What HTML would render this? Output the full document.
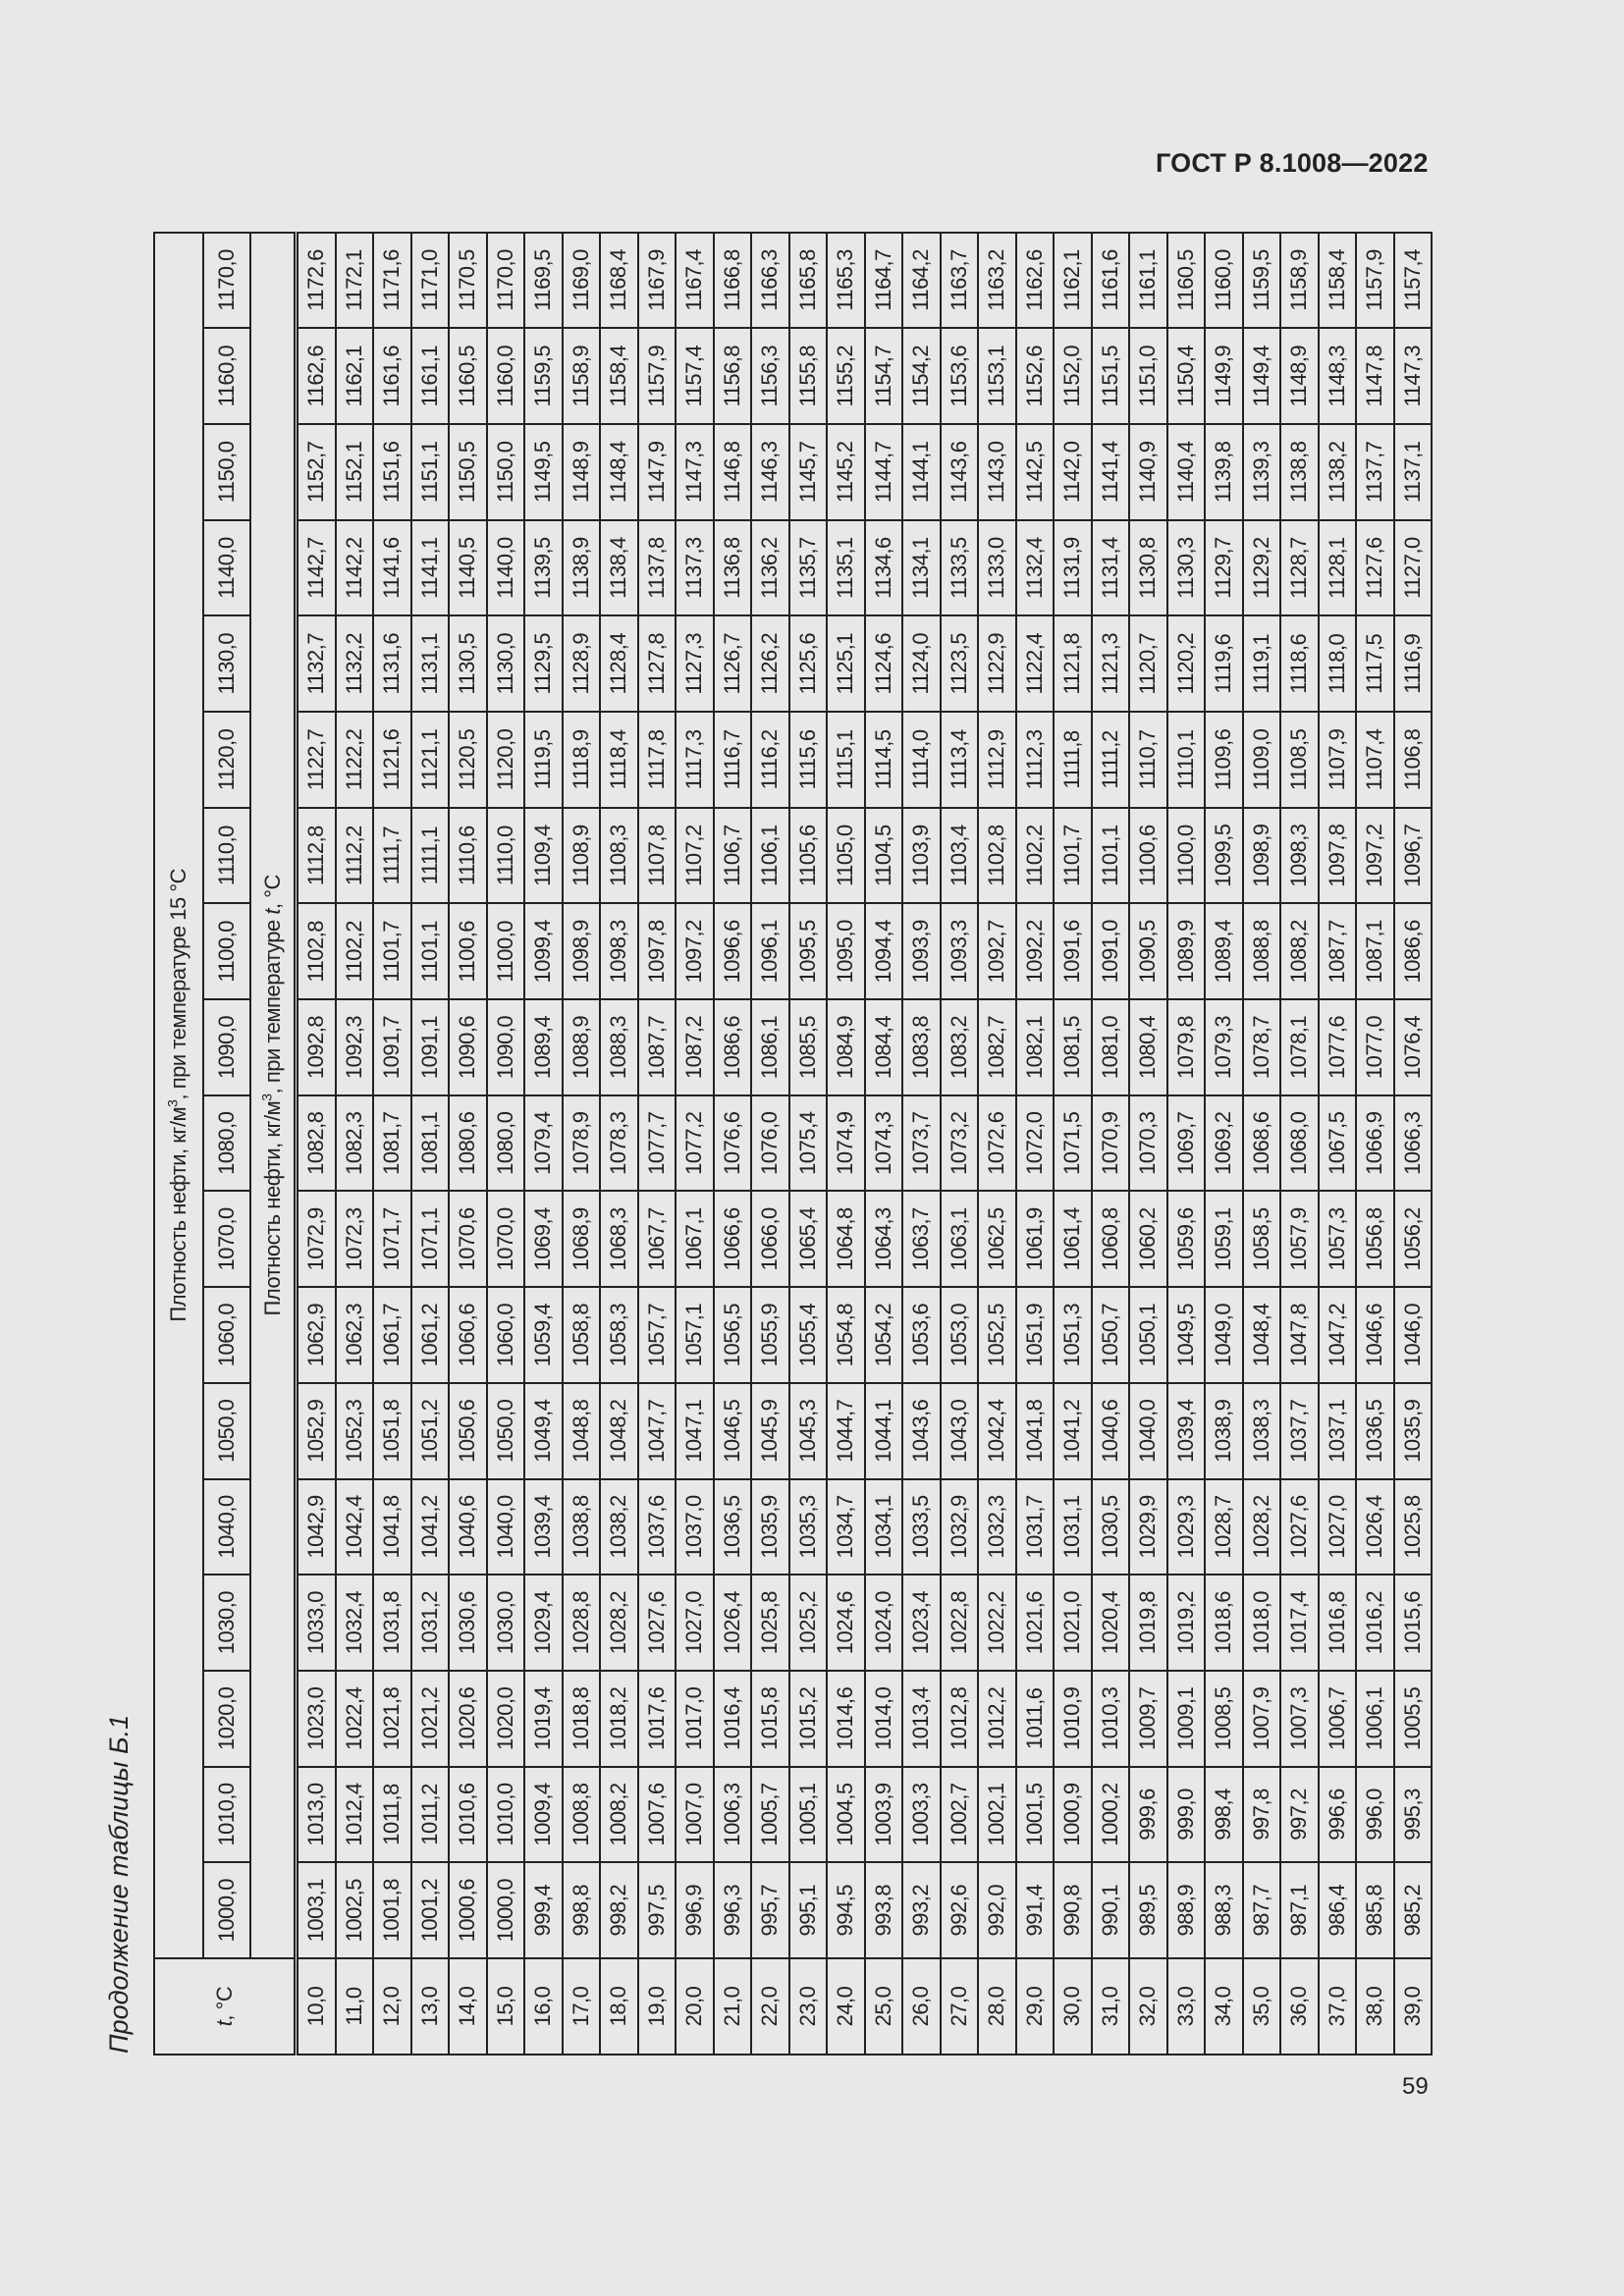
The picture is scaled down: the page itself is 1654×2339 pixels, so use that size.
<!DOCTYPE html>
<html><head><meta charset="utf-8">
<style>
html,body{margin:0;padding:0;background:#e8e8e8;}
body{width:1654px;height:2339px;position:relative;overflow:hidden;font-family:"Liberation Sans",sans-serif;color:#222;}
#gost{position:absolute;left:1177px;top:151px;font-weight:bold;font-size:27px;letter-spacing:0.2px;}
#pg{position:absolute;left:1428px;top:2112px;font-size:24px;}
#rot{position:absolute;left:156px;top:2094px;width:1857px;height:1300px;transform-origin:0 0;transform:rotate(-90deg);}
#title{position:absolute;left:2px;top:-50px;font-style:italic;font-size:27px;white-space:nowrap;}
table{border-collapse:collapse;table-layout:fixed;width:1857px;}
td{border:2px solid #222;padding:0;text-align:center;font-size:22px;letter-spacing:-0.5px;height:36.5px;line-height:20px;white-space:nowrap;overflow:hidden;}
tr.h1 td{height:48px;}
tr.h2 td{height:46px;}
tr.h3 td{height:43px;border-bottom:5px double #222;}
td.t{border-bottom:5px double #222;}
sup{font-size:14px;line-height:0;}
</style></head><body>
<div id="gost">ГОСТ Р 8.1008—2022</div>
<div id="pg">59</div>
<div id="rot">
<div id="title">Продолжение таблицы Б.1</div>
<table>
<colgroup><col style="width:98px"><col span="18" style="width:97.7px"></colgroup>
<tr class="h1"><td rowspan="3" class="t"><i>t</i>, °C</td><td colspan="18">Плотность нефти, кг/м<sup>3</sup>, при температуре 15 °C</td></tr>
<tr class="h2"><td>1000,0</td><td>1010,0</td><td>1020,0</td><td>1030,0</td><td>1040,0</td><td>1050,0</td><td>1060,0</td><td>1070,0</td><td>1080,0</td><td>1090,0</td><td>1100,0</td><td>1110,0</td><td>1120,0</td><td>1130,0</td><td>1140,0</td><td>1150,0</td><td>1160,0</td><td>1170,0</td></tr>
<tr class="h3"><td colspan="18">Плотность нефти, кг/м<sup>3</sup>, при температуре <i>t</i>, °C</td></tr>
<tr><td>10,0</td><td>1003,1</td><td>1013,0</td><td>1023,0</td><td>1033,0</td><td>1042,9</td><td>1052,9</td><td>1062,9</td><td>1072,9</td><td>1082,8</td><td>1092,8</td><td>1102,8</td><td>1112,8</td><td>1122,7</td><td>1132,7</td><td>1142,7</td><td>1152,7</td><td>1162,6</td><td>1172,6</td></tr>
<tr><td>11,0</td><td>1002,5</td><td>1012,4</td><td>1022,4</td><td>1032,4</td><td>1042,4</td><td>1052,3</td><td>1062,3</td><td>1072,3</td><td>1082,3</td><td>1092,3</td><td>1102,2</td><td>1112,2</td><td>1122,2</td><td>1132,2</td><td>1142,2</td><td>1152,1</td><td>1162,1</td><td>1172,1</td></tr>
<tr><td>12,0</td><td>1001,8</td><td>1011,8</td><td>1021,8</td><td>1031,8</td><td>1041,8</td><td>1051,8</td><td>1061,7</td><td>1071,7</td><td>1081,7</td><td>1091,7</td><td>1101,7</td><td>1111,7</td><td>1121,6</td><td>1131,6</td><td>1141,6</td><td>1151,6</td><td>1161,6</td><td>1171,6</td></tr>
<tr><td>13,0</td><td>1001,2</td><td>1011,2</td><td>1021,2</td><td>1031,2</td><td>1041,2</td><td>1051,2</td><td>1061,2</td><td>1071,1</td><td>1081,1</td><td>1091,1</td><td>1101,1</td><td>1111,1</td><td>1121,1</td><td>1131,1</td><td>1141,1</td><td>1151,1</td><td>1161,1</td><td>1171,0</td></tr>
<tr><td>14,0</td><td>1000,6</td><td>1010,6</td><td>1020,6</td><td>1030,6</td><td>1040,6</td><td>1050,6</td><td>1060,6</td><td>1070,6</td><td>1080,6</td><td>1090,6</td><td>1100,6</td><td>1110,6</td><td>1120,5</td><td>1130,5</td><td>1140,5</td><td>1150,5</td><td>1160,5</td><td>1170,5</td></tr>
<tr><td>15,0</td><td>1000,0</td><td>1010,0</td><td>1020,0</td><td>1030,0</td><td>1040,0</td><td>1050,0</td><td>1060,0</td><td>1070,0</td><td>1080,0</td><td>1090,0</td><td>1100,0</td><td>1110,0</td><td>1120,0</td><td>1130,0</td><td>1140,0</td><td>1150,0</td><td>1160,0</td><td>1170,0</td></tr>
<tr><td>16,0</td><td>999,4</td><td>1009,4</td><td>1019,4</td><td>1029,4</td><td>1039,4</td><td>1049,4</td><td>1059,4</td><td>1069,4</td><td>1079,4</td><td>1089,4</td><td>1099,4</td><td>1109,4</td><td>1119,5</td><td>1129,5</td><td>1139,5</td><td>1149,5</td><td>1159,5</td><td>1169,5</td></tr>
<tr><td>17,0</td><td>998,8</td><td>1008,8</td><td>1018,8</td><td>1028,8</td><td>1038,8</td><td>1048,8</td><td>1058,8</td><td>1068,9</td><td>1078,9</td><td>1088,9</td><td>1098,9</td><td>1108,9</td><td>1118,9</td><td>1128,9</td><td>1138,9</td><td>1148,9</td><td>1158,9</td><td>1169,0</td></tr>
<tr><td>18,0</td><td>998,2</td><td>1008,2</td><td>1018,2</td><td>1028,2</td><td>1038,2</td><td>1048,2</td><td>1058,3</td><td>1068,3</td><td>1078,3</td><td>1088,3</td><td>1098,3</td><td>1108,3</td><td>1118,4</td><td>1128,4</td><td>1138,4</td><td>1148,4</td><td>1158,4</td><td>1168,4</td></tr>
<tr><td>19,0</td><td>997,5</td><td>1007,6</td><td>1017,6</td><td>1027,6</td><td>1037,6</td><td>1047,7</td><td>1057,7</td><td>1067,7</td><td>1077,7</td><td>1087,7</td><td>1097,8</td><td>1107,8</td><td>1117,8</td><td>1127,8</td><td>1137,8</td><td>1147,9</td><td>1157,9</td><td>1167,9</td></tr>
<tr><td>20,0</td><td>996,9</td><td>1007,0</td><td>1017,0</td><td>1027,0</td><td>1037,0</td><td>1047,1</td><td>1057,1</td><td>1067,1</td><td>1077,2</td><td>1087,2</td><td>1097,2</td><td>1107,2</td><td>1117,3</td><td>1127,3</td><td>1137,3</td><td>1147,3</td><td>1157,4</td><td>1167,4</td></tr>
<tr><td>21,0</td><td>996,3</td><td>1006,3</td><td>1016,4</td><td>1026,4</td><td>1036,5</td><td>1046,5</td><td>1056,5</td><td>1066,6</td><td>1076,6</td><td>1086,6</td><td>1096,6</td><td>1106,7</td><td>1116,7</td><td>1126,7</td><td>1136,8</td><td>1146,8</td><td>1156,8</td><td>1166,8</td></tr>
<tr><td>22,0</td><td>995,7</td><td>1005,7</td><td>1015,8</td><td>1025,8</td><td>1035,9</td><td>1045,9</td><td>1055,9</td><td>1066,0</td><td>1076,0</td><td>1086,1</td><td>1096,1</td><td>1106,1</td><td>1116,2</td><td>1126,2</td><td>1136,2</td><td>1146,3</td><td>1156,3</td><td>1166,3</td></tr>
<tr><td>23,0</td><td>995,1</td><td>1005,1</td><td>1015,2</td><td>1025,2</td><td>1035,3</td><td>1045,3</td><td>1055,4</td><td>1065,4</td><td>1075,4</td><td>1085,5</td><td>1095,5</td><td>1105,6</td><td>1115,6</td><td>1125,6</td><td>1135,7</td><td>1145,7</td><td>1155,8</td><td>1165,8</td></tr>
<tr><td>24,0</td><td>994,5</td><td>1004,5</td><td>1014,6</td><td>1024,6</td><td>1034,7</td><td>1044,7</td><td>1054,8</td><td>1064,8</td><td>1074,9</td><td>1084,9</td><td>1095,0</td><td>1105,0</td><td>1115,1</td><td>1125,1</td><td>1135,1</td><td>1145,2</td><td>1155,2</td><td>1165,3</td></tr>
<tr><td>25,0</td><td>993,8</td><td>1003,9</td><td>1014,0</td><td>1024,0</td><td>1034,1</td><td>1044,1</td><td>1054,2</td><td>1064,3</td><td>1074,3</td><td>1084,4</td><td>1094,4</td><td>1104,5</td><td>1114,5</td><td>1124,6</td><td>1134,6</td><td>1144,7</td><td>1154,7</td><td>1164,7</td></tr>
<tr><td>26,0</td><td>993,2</td><td>1003,3</td><td>1013,4</td><td>1023,4</td><td>1033,5</td><td>1043,6</td><td>1053,6</td><td>1063,7</td><td>1073,7</td><td>1083,8</td><td>1093,9</td><td>1103,9</td><td>1114,0</td><td>1124,0</td><td>1134,1</td><td>1144,1</td><td>1154,2</td><td>1164,2</td></tr>
<tr><td>27,0</td><td>992,6</td><td>1002,7</td><td>1012,8</td><td>1022,8</td><td>1032,9</td><td>1043,0</td><td>1053,0</td><td>1063,1</td><td>1073,2</td><td>1083,2</td><td>1093,3</td><td>1103,4</td><td>1113,4</td><td>1123,5</td><td>1133,5</td><td>1143,6</td><td>1153,6</td><td>1163,7</td></tr>
<tr><td>28,0</td><td>992,0</td><td>1002,1</td><td>1012,2</td><td>1022,2</td><td>1032,3</td><td>1042,4</td><td>1052,5</td><td>1062,5</td><td>1072,6</td><td>1082,7</td><td>1092,7</td><td>1102,8</td><td>1112,9</td><td>1122,9</td><td>1133,0</td><td>1143,0</td><td>1153,1</td><td>1163,2</td></tr>
<tr><td>29,0</td><td>991,4</td><td>1001,5</td><td>1011,6</td><td>1021,6</td><td>1031,7</td><td>1041,8</td><td>1051,9</td><td>1061,9</td><td>1072,0</td><td>1082,1</td><td>1092,2</td><td>1102,2</td><td>1112,3</td><td>1122,4</td><td>1132,4</td><td>1142,5</td><td>1152,6</td><td>1162,6</td></tr>
<tr><td>30,0</td><td>990,8</td><td>1000,9</td><td>1010,9</td><td>1021,0</td><td>1031,1</td><td>1041,2</td><td>1051,3</td><td>1061,4</td><td>1071,5</td><td>1081,5</td><td>1091,6</td><td>1101,7</td><td>1111,8</td><td>1121,8</td><td>1131,9</td><td>1142,0</td><td>1152,0</td><td>1162,1</td></tr>
<tr><td>31,0</td><td>990,1</td><td>1000,2</td><td>1010,3</td><td>1020,4</td><td>1030,5</td><td>1040,6</td><td>1050,7</td><td>1060,8</td><td>1070,9</td><td>1081,0</td><td>1091,0</td><td>1101,1</td><td>1111,2</td><td>1121,3</td><td>1131,4</td><td>1141,4</td><td>1151,5</td><td>1161,6</td></tr>
<tr><td>32,0</td><td>989,5</td><td>999,6</td><td>1009,7</td><td>1019,8</td><td>1029,9</td><td>1040,0</td><td>1050,1</td><td>1060,2</td><td>1070,3</td><td>1080,4</td><td>1090,5</td><td>1100,6</td><td>1110,7</td><td>1120,7</td><td>1130,8</td><td>1140,9</td><td>1151,0</td><td>1161,1</td></tr>
<tr><td>33,0</td><td>988,9</td><td>999,0</td><td>1009,1</td><td>1019,2</td><td>1029,3</td><td>1039,4</td><td>1049,5</td><td>1059,6</td><td>1069,7</td><td>1079,8</td><td>1089,9</td><td>1100,0</td><td>1110,1</td><td>1120,2</td><td>1130,3</td><td>1140,4</td><td>1150,4</td><td>1160,5</td></tr>
<tr><td>34,0</td><td>988,3</td><td>998,4</td><td>1008,5</td><td>1018,6</td><td>1028,7</td><td>1038,9</td><td>1049,0</td><td>1059,1</td><td>1069,2</td><td>1079,3</td><td>1089,4</td><td>1099,5</td><td>1109,6</td><td>1119,6</td><td>1129,7</td><td>1139,8</td><td>1149,9</td><td>1160,0</td></tr>
<tr><td>35,0</td><td>987,7</td><td>997,8</td><td>1007,9</td><td>1018,0</td><td>1028,2</td><td>1038,3</td><td>1048,4</td><td>1058,5</td><td>1068,6</td><td>1078,7</td><td>1088,8</td><td>1098,9</td><td>1109,0</td><td>1119,1</td><td>1129,2</td><td>1139,3</td><td>1149,4</td><td>1159,5</td></tr>
<tr><td>36,0</td><td>987,1</td><td>997,2</td><td>1007,3</td><td>1017,4</td><td>1027,6</td><td>1037,7</td><td>1047,8</td><td>1057,9</td><td>1068,0</td><td>1078,1</td><td>1088,2</td><td>1098,3</td><td>1108,5</td><td>1118,6</td><td>1128,7</td><td>1138,8</td><td>1148,9</td><td>1158,9</td></tr>
<tr><td>37,0</td><td>986,4</td><td>996,6</td><td>1006,7</td><td>1016,8</td><td>1027,0</td><td>1037,1</td><td>1047,2</td><td>1057,3</td><td>1067,5</td><td>1077,6</td><td>1087,7</td><td>1097,8</td><td>1107,9</td><td>1118,0</td><td>1128,1</td><td>1138,2</td><td>1148,3</td><td>1158,4</td></tr>
<tr><td>38,0</td><td>985,8</td><td>996,0</td><td>1006,1</td><td>1016,2</td><td>1026,4</td><td>1036,5</td><td>1046,6</td><td>1056,8</td><td>1066,9</td><td>1077,0</td><td>1087,1</td><td>1097,2</td><td>1107,4</td><td>1117,5</td><td>1127,6</td><td>1137,7</td><td>1147,8</td><td>1157,9</td></tr>
<tr><td>39,0</td><td>985,2</td><td>995,3</td><td>1005,5</td><td>1015,6</td><td>1025,8</td><td>1035,9</td><td>1046,0</td><td>1056,2</td><td>1066,3</td><td>1076,4</td><td>1086,6</td><td>1096,7</td><td>1106,8</td><td>1116,9</td><td>1127,0</td><td>1137,1</td><td>1147,3</td><td>1157,4</td></tr>
</table>
</div>
</body></html>
